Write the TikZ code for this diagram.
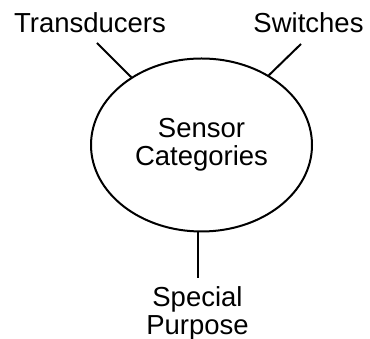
\documentclass[tikz,border=0pt]{standalone}
\usepackage{fontspec}
\setmainfont{Liberation Sans}
\usepackage{tikz}
\usetikzlibrary{
    shapes.geometric,
    positioning,
    calc
}
\definecolor{linegray}{RGB}{0,0,0}
\tikzset{
    category/.style={
        ellipse,
        draw=linegray,
        minimum width=221pt,
        minimum height=173pt,
        inner sep=0pt,
        align=center,
        font=\fontsize{27.5}{28}\selectfont,
        line width=2pt
    },
    label/.style={
        inner sep=0pt,
        align=center,
        font=\fontsize{27.5}{28}\selectfont
    },
    link/.style={
        draw=linegray,
        line width=2pt
    }
}

\begin{document}
\begin{tikzpicture}[x=1pt, y=1pt]
    \useasboundingbox (0,0) rectangle (370,339);
    \node[category] (cat) at (201.5,194) {Sensor\\Categories};
    \node[label, anchor=base] (trans) at (90,306) {Transducers};
    \node[label, anchor=base] (sw) at (308.5,306) {Switches};
    \node[label] (spec) at (197.5,26) {Special\\Purpose};

    % Connector ends
    \coordinate (transTip) at (97,296);
    \coordinate (swTip) at (301,295);

    \draw[link] (transTip) -- (cat.136);
    \draw[link] (swTip) -- (cat.46);
    \draw[link] ($(spec.north)+(0,8)$) -- (spec.north |- cat.south);
\end{tikzpicture}
\end{document}
